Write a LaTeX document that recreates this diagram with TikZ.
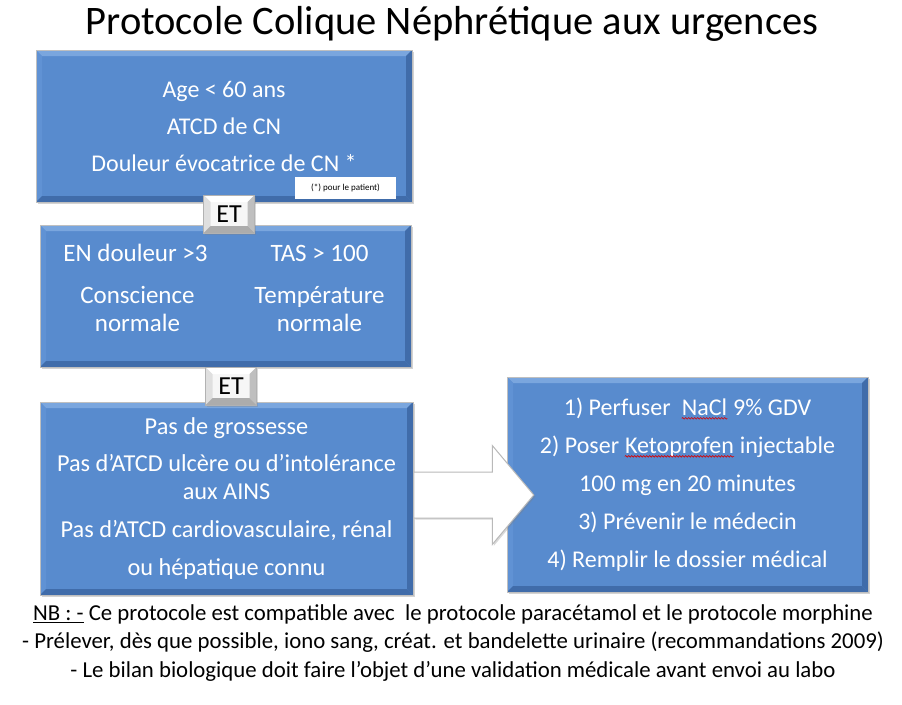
\documentclass[tikz,border=0pt]{standalone}
\usepackage{fontspec}
\setmainfont{Carlito}
\usetikzlibrary{positioning,calc,shapes.arrows,shadows,decorations.pathmorphing}
\definecolor{boxblue}{RGB}{88,139,206}
\definecolor{boxlight}{RGB}{122,166,222}
\definecolor{boxside}{RGB}{96,146,212}
\definecolor{boxdark}{RGB}{64,108,170}
\definecolor{keyface}{RGB}{246,246,246}
\tikzset{
  bevel/.style n args={5}{path picture={
      \fill[#1] (path picture bounding box.north west) -- (path picture bounding box.north east)
        -- ([shift={(-#5,-#5)}]path picture bounding box.north east) -- ([shift={(#5,-#5)}]path picture bounding box.north west) -- cycle;
      \fill[#2] (path picture bounding box.north west) -- (path picture bounding box.south west)
        -- ([shift={(#5,#5)}]path picture bounding box.south west) -- ([shift={(#5,-#5)}]path picture bounding box.north west) -- cycle;
      \fill[#3] (path picture bounding box.north east) -- (path picture bounding box.south east)
        -- ([shift={(-#5,#5)}]path picture bounding box.south east) -- ([shift={(-#5,-#5)}]path picture bounding box.north east) -- cycle;
      \fill[#4] (path picture bounding box.south west) -- (path picture bounding box.south east)
        -- ([shift={(-#5,#5)}]path picture bounding box.south east) -- ([shift={(#5,#5)}]path picture bounding box.south west) -- cycle;
  }},
  bluebox/.style={draw=gray!50, line width=0.6pt, fill=boxblue, text=white, align=center, inner sep=0pt,
    font=\fontsize{24}{37}\selectfont, drop shadow={shadow xshift=2pt, shadow yshift=-2pt, opacity=0.35},
    bevel={boxlight}{boxside}{boxdark}{boxdark}{6pt}},
  boxtext/.style={text=white, align=center, inner sep=0pt, font=\fontsize{25}{28}\selectfont},
  keycap/.style={draw=gray!60, fill=keyface, text=black, inner sep=0pt, minimum width=51pt, minimum height=38pt,
    font=\fontsize{26}{26}\selectfont, drop shadow={shadow xshift=1.5pt, shadow yshift=-1.5pt, opacity=0.3},
    bevel={white}{gray!25}{gray!50}{gray!65}{7pt}},
  notebox/.style={fill=white, inner sep=0pt, minimum width=101pt, minimum height=22pt, font=\fontsize{9}{10}\selectfont},
  bigarrow/.style={single arrow, draw=gray!55, line width=1pt, fill=white, inner xsep=0pt, inner ysep=22.5pt,
    minimum width=0pt, minimum height=120pt, single arrow head extend=26.5pt, single arrow tip angle=100,
    drop shadow={shadow xshift=1.5pt, shadow yshift=-1.5pt, opacity=0.3}},
  nbtext/.style={align=center, inner sep=0pt, font=\fontsize{22.8}{28.5}\selectfont}
}
\newcommand\spellmark[1]{\tikz[baseline=(w.base)]{\node[inner sep=0pt, minimum width=0pt, minimum height=0pt,
    draw=none, fill=none, text=white] (w) {#1};
  \draw[red!85!black, line width=0.6pt, decorate, decoration={snake, amplitude=0.8pt, segment length=3pt}]
    ([yshift=-3pt]w.base west) -- ([yshift=-3pt]w.base east);}}
\begin{document}
\begin{tikzpicture}[x=1pt, y=-1pt]
  \useasboundingbox (0,0) rectangle (902,704);
  % Title
  \node[font=\fontsize{40.5}{44}\selectfont] (title) at (452,24) {Protocole Colique Néphrétique aux urgences};

  % Criteria boxes
  \node[bluebox, minimum width=376pt, minimum height=152pt] (crit) at (224,126)
    {Age < 60 ans\\ATCD de CN\\Douleur évocatrice de CN *};
  \node[notebox, anchor=south east] (note) at ([shift={(-16pt,3pt)}]crit.south east) {(*) pour le patient)};
  \node[bluebox, minimum width=371pt, minimum height=142pt] (clin) at (225.5,296) {};
  \node[boxtext] (pain) at ($(clin.center)+(-90,-43)$) {EN douleur >3};
  \node[boxtext] (tas) at ($(clin.center)+(94,-43)$) {TAS > 100};
  \node[boxtext] (consc) at ($(clin.center)+(-88,13)$) {Conscience\\normale};
  \node[boxtext] (temp) at ($(clin.center)+(94,13)$) {Température\\normale};
  \node[bluebox, minimum width=373pt, minimum height=193pt, font=\fontsize{24.3}{28}\selectfont] (contra) at (226.5,498.5)
    {Pas de grossesse\\[9pt]Pas d’ATCD ulcère ou d’intolérance\\aux AINS\\[10pt]Pas d’ATCD cardiovasculaire, rénal\\[10pt]ou hépatique connu};

  % Keys between boxes
  \node[keycap] (et1) at (229,214) {ET};
  \node[keycap] (et2) at (231,386) {ET};

  % Actions
  \node[bluebox, minimum width=361pt, minimum height=215pt, font=\fontsize{24}{38}\selectfont] (actions) at (687.5,484.5)
    {1) Perfuser\ \ \spellmark{NaCl} 9\% GDV\\2) Poser \spellmark{Ketoprofen} injectable\\100 mg en 20 minutes\\3) Prévenir le médecin\\4) Remplir le dossier médical};
  \node[bigarrow, anchor=tail] (go) at ([yshift=3.5pt]contra.east) {};

  % Notes
  \node[nbtext] (nb) at (453,643)
    {\underline{NB : -} Ce protocole est compatible avec\ \ le protocole paracétamol et le protocole morphine\\
     - Prélever, dès que possible, iono sang, créat. et bandelette urinaire (recommandations 2009)\\
     - Le bilan biologique doit faire l’objet d’une validation médicale avant envoi au labo};
\end{tikzpicture}
\end{document}
